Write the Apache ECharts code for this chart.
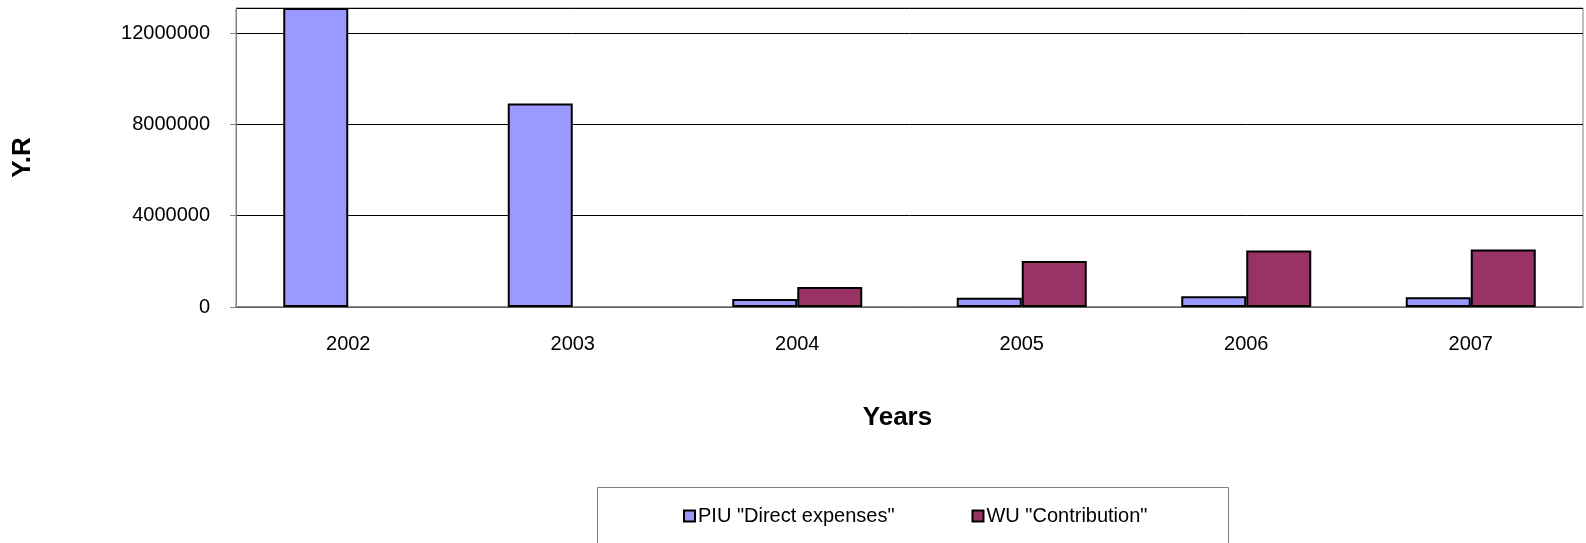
<!DOCTYPE html>
<html>
<head>
<meta charset="utf-8">
<script src="https://cdn.jsdelivr.net/npm/echarts@6/dist/echarts.min.js"></script>
<style>
  html, body { margin: 0; padding: 0; background: #fff; }
  #main { width: 1586px; height: 543px; }
</style>
</head>
<body>
<div id="main"></div>
<script>
var years = ["2002", "2003", "2004", "2005", "2006", "2007"];
var piuDirect = [13100000, 8920000, 351000, 408000, 466000, 422000];
var wuContribution = [null, null, 878000, 2020000, 2470000, 2520000];
var yMax = 13100000;
var yStep = 4000000;

var chartDom = document.getElementById("main");
var myChart = echarts.init(chartDom);
var option;

var font = "Liberation Sans, Arial, sans-serif";

option = {
  animation: false,
  textStyle: { fontFamily: font, color: "#000" },
  grid: {
    left: 236,
    right: 3,
    top: 8,
    bottom: 236,
    show: true,
    borderColor: "#808080",
    borderWidth: 1,
    outerBoundsMode: "none",
    containLabel: false,
  },
  legend: {
    left: 678,
    top: 501,
    itemWidth: 11,
    itemHeight: 11,
    itemGap: 77,
    icon: "rect",
    textStyle: { fontFamily: font, fontSize: 20, color: "#000", padding: [0, 0, 0, -2] },
    itemStyle: { borderColor: "#000", borderWidth: 2 },
  },
  graphic: [
    {
      type: "rect",
      shape: { x: 597.5, y: 487.5, width: 631, height: 100 },
      style: { fill: "#fff", stroke: "#808080", lineWidth: 1 },
      z: -1,
    },
  ],
  xAxis: {
    type: "category",
    data: years,
    name: "Years",
    nameLocation: "middle",
    nameGap: 98,
    nameTextStyle: { fontFamily: font, fontSize: 26, fontWeight: "bold", color: "#000", padding: [0, 24, 0, 0] },
    axisLine: { lineStyle: { color: "#808080", width: 1.5 } },
    axisTick: { length: 6, lineStyle: { color: "#808080" } },
    axisLabel: { fontSize: 20, color: "#000", margin: 27 },
  },
  yAxis: {
    type: "value",
    min: 0,
    max: yMax,
    interval: yStep,
    name: "Y.R",
    nameLocation: "middle",
    nameGap: 200,
    nameTextStyle: { fontFamily: font, fontSize: 26, fontWeight: "bold", color: "#000" },
    axisLine: { show: true, lineStyle: { color: "#808080" } },
    axisTick: { show: true, length: 6, lineStyle: { color: "#808080" } },
    axisLabel: {
      fontSize: 20,
      color: "#000",
      margin: 26,
      showMaxLabel: false,
      formatter: function (v) { return String(v); },
    },
    splitLine: { lineStyle: { color: "#000", width: 1 } },
  },
  series: [
    {
      name: 'PIU "Direct expenses"',
      type: "bar",
      data: piuDirect,
      barWidth: 65,
      barGap: "0%",
      itemStyle: { color: "#9999FF", borderColor: "#000", borderWidth: 2 },
    },
    {
      name: 'WU "Contribution"',
      type: "bar",
      data: wuContribution,
      barWidth: 65,
      itemStyle: { color: "#993366", borderColor: "#000", borderWidth: 2 },
    },
  ],
};

option && myChart.setOption(option);
</script>
</body>
</html>
